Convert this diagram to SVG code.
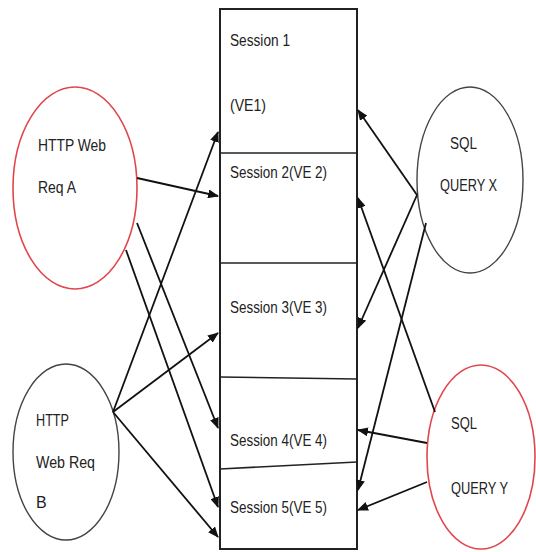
<svg xmlns="http://www.w3.org/2000/svg" width="536" height="552" viewBox="0 0 536 552">
  <style>
    .t { font-family: "Liberation Sans", Arial, sans-serif; font-size: 16px; fill: #222; }
    .red { fill: #fff; stroke: #e0474c; stroke-width: 1.6; }
    .gray { fill: #fff; stroke: #444; stroke-width: 1.4; }
    .box { fill: #fff; stroke: #222; stroke-width: 2; }
    .div { stroke: #222; stroke-width: 1.6; fill: none; }
    .c { stroke: #111; stroke-width: 1.8; fill: none; marker-end: url(#ah); }
  </style>
  <defs>
    <marker id="ah" markerUnits="userSpaceOnUse" markerWidth="11" markerHeight="9" refX="10" refY="4.5" orient="auto">
      <path d="M0,0 L11,4.5 L0,9 z" fill="#111"/>
    </marker>
  </defs>
  <rect width="536" height="552" fill="#fff"/>

  <g id="sessions">
    <rect class="box" x="220" y="9" width="137" height="540"/>
    <line class="div" x1="220" y1="153" x2="357" y2="153"/>
    <line class="div" x1="220" y1="263" x2="357" y2="263"/>
    <line class="div" x1="220" y1="377" x2="357" y2="379"/>
    <line class="div" x1="220" y1="469" x2="357" y2="462"/>
    <text class="t" x="230" y="46" textLength="60" lengthAdjust="spacingAndGlyphs">Session 1</text>
    <text class="t" x="230" y="111" textLength="36" lengthAdjust="spacingAndGlyphs">(VE1)</text>
    <text class="t" x="230" y="178" textLength="97" lengthAdjust="spacingAndGlyphs">Session 2(VE 2)</text>
    <text class="t" x="230" y="313" textLength="97" lengthAdjust="spacingAndGlyphs">Session 3(VE 3)</text>
    <text class="t" x="230" y="446" textLength="97" lengthAdjust="spacingAndGlyphs">Session 4(VE 4)</text>
    <text class="t" x="230" y="513" textLength="97" lengthAdjust="spacingAndGlyphs">Session 5(VE 5)</text>
  </g>

  <g id="reqA">
    <ellipse class="red" cx="75" cy="188" rx="62" ry="101"/>
    <text class="t" x="38" y="151" textLength="68" lengthAdjust="spacingAndGlyphs">HTTP Web</text>
    <text class="t" x="38" y="193" textLength="38" lengthAdjust="spacingAndGlyphs">Req A</text>
  </g>

  <g id="reqB">
    <ellipse class="gray" cx="66" cy="452" rx="53" ry="88"/>
    <text class="t" x="36" y="426" textLength="33" lengthAdjust="spacingAndGlyphs">HTTP</text>
    <text class="t" x="36" y="468" textLength="59" lengthAdjust="spacingAndGlyphs">Web Req</text>
    <text class="t" x="36" y="508">B</text>
  </g>

  <g id="queryX">
    <ellipse class="gray" cx="470" cy="180" rx="53" ry="93"/>
    <text class="t" x="450" y="149" textLength="27" lengthAdjust="spacingAndGlyphs">SQL</text>
    <text class="t" x="440" y="191" textLength="57" lengthAdjust="spacingAndGlyphs">QUERY X</text>
  </g>

  <g id="queryY">
    <ellipse class="red" cx="481" cy="457" rx="54" ry="92"/>
    <text class="t" x="451" y="429" textLength="26" lengthAdjust="spacingAndGlyphs">SQL</text>
    <text class="t" x="451" y="494" textLength="57" lengthAdjust="spacingAndGlyphs">QUERY Y</text>
  </g>

  <g id="connectors">
    <line class="c" x1="137" y1="178" x2="218" y2="196"/>
    <line class="c" x1="137" y1="223" x2="218" y2="428"/>
    <line class="c" x1="126" y1="250" x2="218" y2="507"/>
    <line class="c" x1="113" y1="412" x2="218" y2="132"/>
    <line class="c" x1="113" y1="412" x2="218" y2="333"/>
    <line class="c" x1="113" y1="412" x2="218" y2="537"/>
    <line class="c" x1="417" y1="195" x2="358" y2="110"/>
    <line class="c" x1="417" y1="195" x2="358" y2="328"/>
    <line class="c" x1="426" y1="223" x2="358" y2="490"/>
    <line class="c" x1="435" y1="412" x2="358" y2="198"/>
    <line class="c" x1="427" y1="443" x2="358" y2="430"/>
    <line class="c" x1="427" y1="482" x2="358" y2="510"/>
  </g>
</svg>
